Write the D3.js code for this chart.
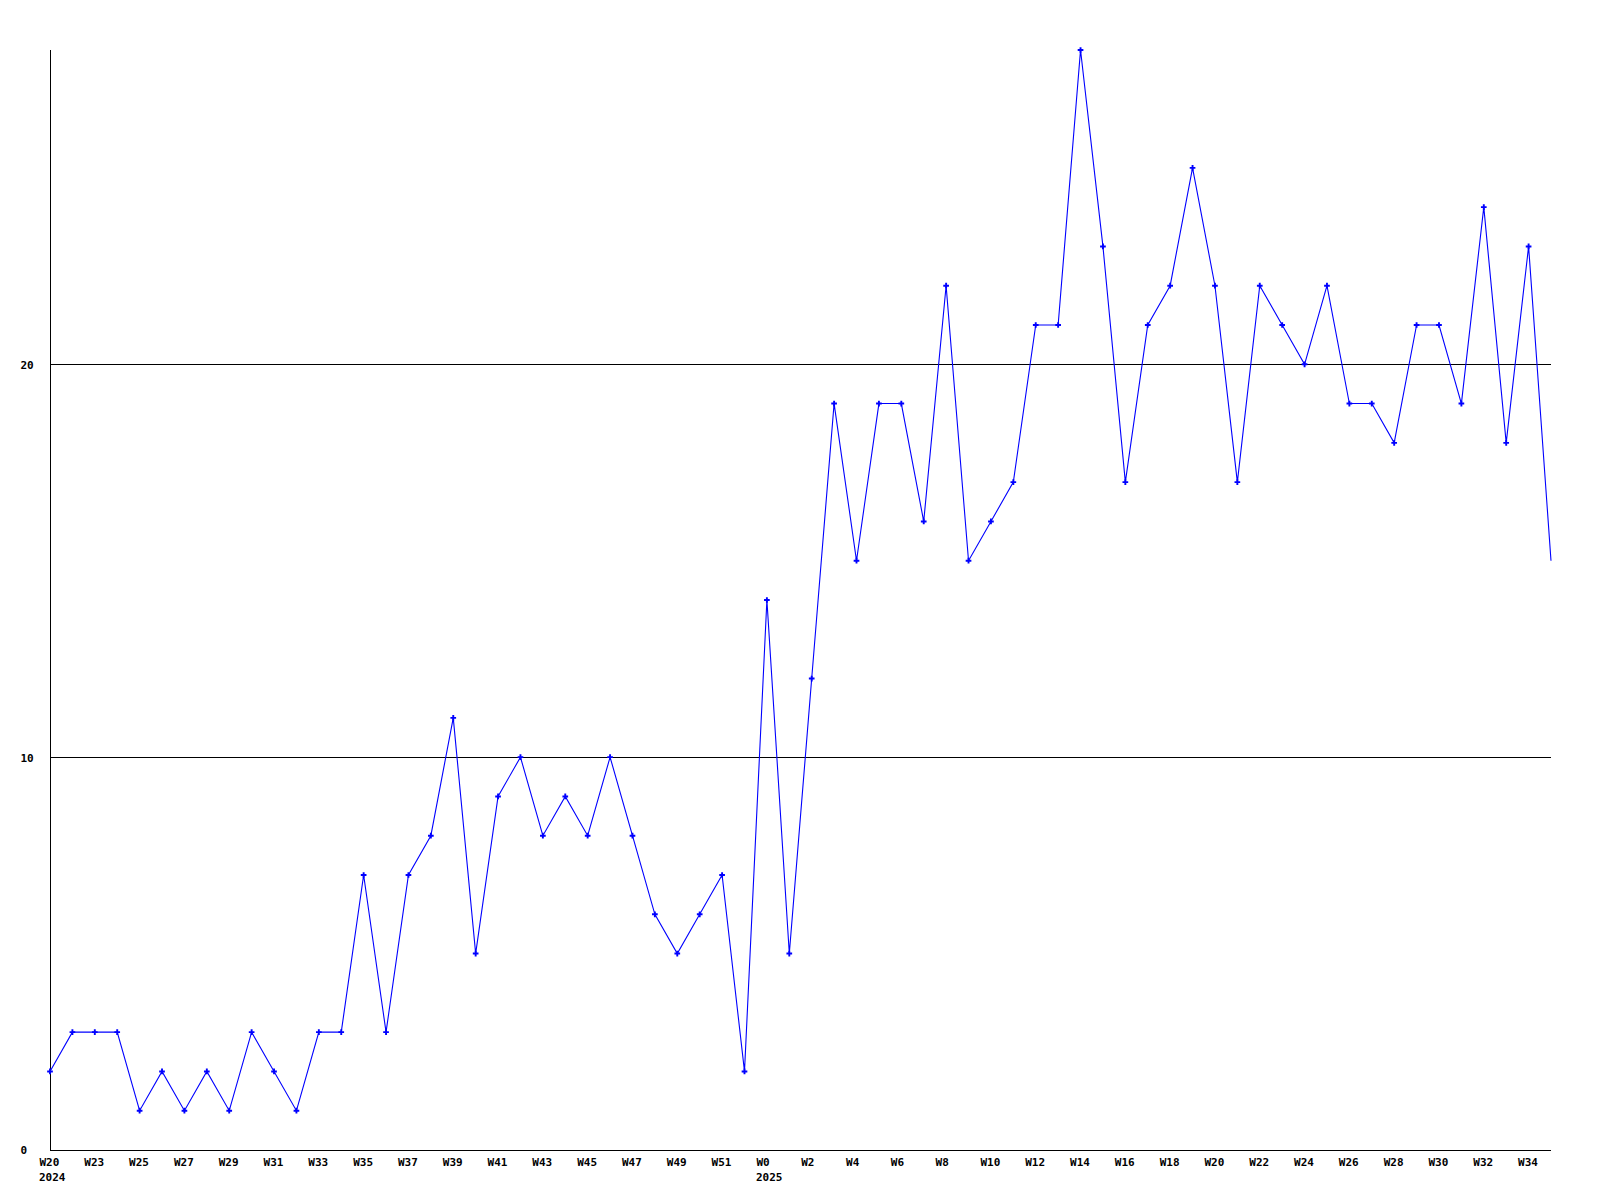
<!DOCTYPE html>
<html>
<head>
<meta charset="utf-8">
<script src="https://cdn.jsdelivr.net/npm/d3@7"></script>
<style>
  html, body { margin: 0; padding: 0; background: #ffffff; }
  svg { display: block; }
  text { font-family: "DejaVu Sans Mono", "Liberation Mono", monospace; font-weight: bold; font-size: 11px; fill: #000; }
</style>
</head>
<body>
<svg id="chart" width="1600" height="1200"></svg>
<script>
// weekly counts, one per week, starting at W20 2024
const values = [
  2, 3, 3, 3, 1, 2, 1, 2, 1, 3,
  2, 1, 3, 3, 7, 3, 7, 8, 11, 5,
  9, 10, 8, 9, 8, 10, 8, 6, 5, 6,
  7, 2, 14, 5, 12, 19, 15, 19, 19, 16,
  22, 15, 16, 17, 21, 21, 28, 23, 17, 21,
  22, 25, 22, 17, 22, 21, 20, 22, 19, 19,
  18, 21, 21, 19, 24, 18, 23, 15
];
// labels at every second point
const tickLabels = [
  "W20", "W23", "W25", "W27", "W29", "W31", "W33", "W35", "W37", "W39",
  "W41", "W43", "W45", "W47", "W49", "W51", "W0", "W2", "W4", "W6",
  "W8", "W10", "W12", "W14", "W16", "W18", "W20", "W22", "W24", "W26",
  "W28", "W30", "W32", "W34"
];
const yearLabels = [ { idx: 0, label: "2024" }, { idx: 32, label: "2025" } ];
const yTicks = [0, 10, 20];
const yMax = 28;

(function () {
const svg = d3.select("#chart");
const mLeft = 50, mRight = 1551, mTop = 50, mBottom = 1150;

const x = d3.scaleLinear().domain([0, values.length - 1]).range([mLeft, mRight]);
const y = d3.scaleLinear().domain([0, yMax]).range([mBottom, mTop]);

// grid lines
svg.append("g").selectAll("line")
  .data(yTicks.filter(t => t > 0))
  .join("line")
  .attr("x1", mLeft).attr("x2", mRight)
  .attr("y1", d => Math.round(y(d)) + 0.5).attr("y2", d => Math.round(y(d)) + 0.5)
  .attr("stroke", "#000").attr("stroke-width", 1);

// y axis
const yAxis = d3.axisLeft(y).tickValues(yTicks).tickSize(0).tickFormat(d3.format("d"));
const gy = svg.append("g").attr("transform", `translate(${mLeft + 0.5},0)`).call(yAxis);
gy.attr("font-family", null).attr("font-size", null);
gy.select(".domain").attr("stroke", "#000").attr("d", `M0,${mTop}V${mBottom + 0.5}`);
gy.selectAll("text").attr("text-anchor", "start").attr("x", 20 - mLeft).attr("dy", "0.35em");

// x axis
const tickIdx = tickLabels.map((_, i) => i * 2);
const xAxis = d3.axisBottom(x).tickValues(tickIdx).tickSize(0).tickPadding(8)
  .tickFormat((d, i) => tickLabels[i]);
const gx = svg.append("g").attr("transform", `translate(0,${mBottom + 0.5})`).call(xAxis);
gx.attr("font-family", null).attr("font-size", null);
gx.select(".domain").attr("stroke", "#000").attr("d", `M${mLeft},0H${mRight}`);
gx.selectAll("text").attr("text-anchor", "start").attr("dx", -11);

// year labels
svg.append("g").selectAll("text")
  .data(yearLabels)
  .join("text")
  .attr("x", d => x(d.idx) - 11)
  .attr("y", mBottom + 31)
  .text(d => d.label);

// line
const line = d3.line().x((d, i) => x(i)).y(d => y(d));
svg.append("path")
  .datum(values)
  .attr("fill", "none")
  .attr("stroke", "#0000ff")
  .attr("stroke-width", 1.1)
  .attr("d", line);

// markers
const sym = d3.symbol().type(d3.symbolCross).size(18);
svg.append("g").selectAll("path")
  .data(values.slice(0, values.length - 1))
  .join("path")
  .attr("transform", (d, i) => `translate(${x(i)},${y(d)})`)
  .attr("d", sym)
  .attr("fill", "#0000ff");
})();
</script>
</body>
</html>
